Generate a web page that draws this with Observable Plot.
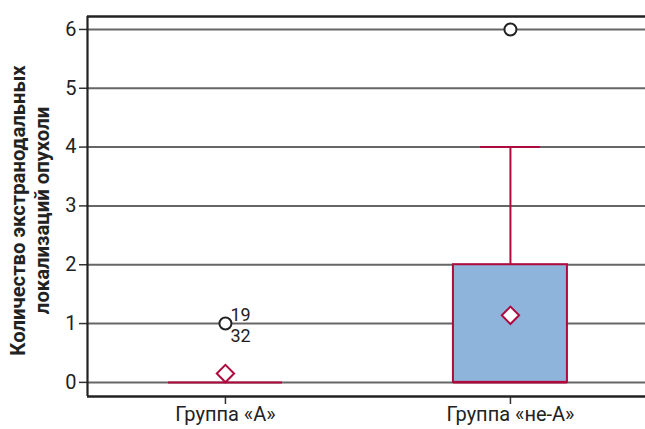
<!DOCTYPE html>
<html>
<head>
<meta charset="utf-8">
<script src="https://cdn.jsdelivr.net/npm/d3@7"></script>
<script src="https://cdn.jsdelivr.net/npm/@observablehq/plot@0.6"></script>
<style>
  html, body { margin: 0; padding: 0; background: #fff; overflow: hidden; }
  #chart svg { display: block; max-width: none !important; overflow: hidden; }
</style>
</head>
<body>
<div id="chart"></div>
<script>
const groups = ["Группа «А»", "Группа «не-А»"];
const q1 = [0, 0];
const medians = [0, 0];
const q3 = [0, 2];
const whiskerLow = [0, 0];
const whiskerHigh = [0, 4];
const means = [0.15, 1.14];
const outlierGroups = [0, 1];
const outlierValues = [1, 6];
const outlierLabels = ["19\n32", ""];
const yTicks = [0, 1, 2, 3, 4, 5, 6];
const yTitle = "Количество экстранодальных\nлокализаций опухоли";
const xDomain = [-0.484, 1.509];
const yDomain = [-0.24, 6.22];

const crimson = "#AE0A3D";
const boxW = 0.2, capW = 0.105;
const boxes = groups.map((g, i) => ({i, group: g, q1: q1[i], median: medians[i], q3: q3[i], lo: whiskerLow[i], hi: whiskerHigh[i], mean: means[i]}));
const outliers = outlierGroups.map((g, i) => ({i: g, value: outlierValues[i], label: outlierLabels[i]}));

const chart = Plot.plot({
  width: 645,
  height: 429,
  marginLeft: 87,
  marginRight: -10,
  marginTop: 16,
  marginBottom: 33,
  style: {fontFamily: "Roboto, sans-serif", fontSize: "20px", color: "#222", background: "#fff"},
  x: {domain: xDomain, label: null},
  y: {domain: yDomain, label: null},
  marks: [
    Plot.gridY(yTicks, {stroke: "#666", strokeOpacity: 1, strokeWidth: 2}),
    Plot.axisY(yTicks, {tickSize: 8, tickPadding: 3, fontSize: 20, tickFormat: d => String(d), stroke: "#333", strokeWidth: 1.5, label: null}),
    Plot.axisX(boxes.map(d => d.i), {tickSize: 8, tickPadding: 2, fontSize: 20, tickFormat: i => groups[i], stroke: "#333", strokeWidth: 1.5, label: null}),
    Plot.ruleY(yDomain, {stroke: "#222", strokeWidth: 2.4}),
    Plot.ruleX([xDomain[0]], {stroke: "#222", strokeWidth: 2.2}),
    Plot.rectY(boxes.filter(d => d.q3 > d.q1), {x1: d => d.i - boxW, x2: d => d.i + boxW, y1: "q1", y2: "q3", fill: "#8FB4DC", stroke: crimson, strokeWidth: 2}),
    Plot.ruleX(boxes.filter(d => d.hi > d.q3), {x: "i", y1: "q3", y2: "hi", stroke: crimson, strokeWidth: 2}),
    Plot.ruleY(boxes.filter(d => d.hi > d.q3), {x1: d => d.i - capW, x2: d => d.i + capW, y: "hi", stroke: crimson, strokeWidth: 2}),
    Plot.ruleY(boxes, {x1: d => d.i - boxW, x2: d => d.i + boxW, y: "median", stroke: crimson, strokeWidth: 2}),
    Plot.dot(boxes, {x: "i", y: "mean", symbol: "diamond2", r: 7.8, fill: "#fff", stroke: crimson, strokeWidth: 2}),
    Plot.dot(outliers, {x: "i", y: "value", r: 6, fill: "#fff", stroke: "#222", strokeWidth: 2}),
    Plot.text(outliers, {x: "i", y: "value", text: "label", dx: 5, dy: 1, textAnchor: "start", lineAnchor: "middle", lineHeight: 1.2, fontSize: 18, fill: "#222"}),
    Plot.text([yTitle], {frameAnchor: "left", rotate: -90, dx: -58, dy: 4, fontWeight: "bold", fontSize: 20.3, lineHeight: 1.18, lineAnchor: "middle", textAnchor: "middle", fill: "#222"})
  ]
});
document.getElementById("chart").appendChild(chart);
</script>
</body>
</html>
